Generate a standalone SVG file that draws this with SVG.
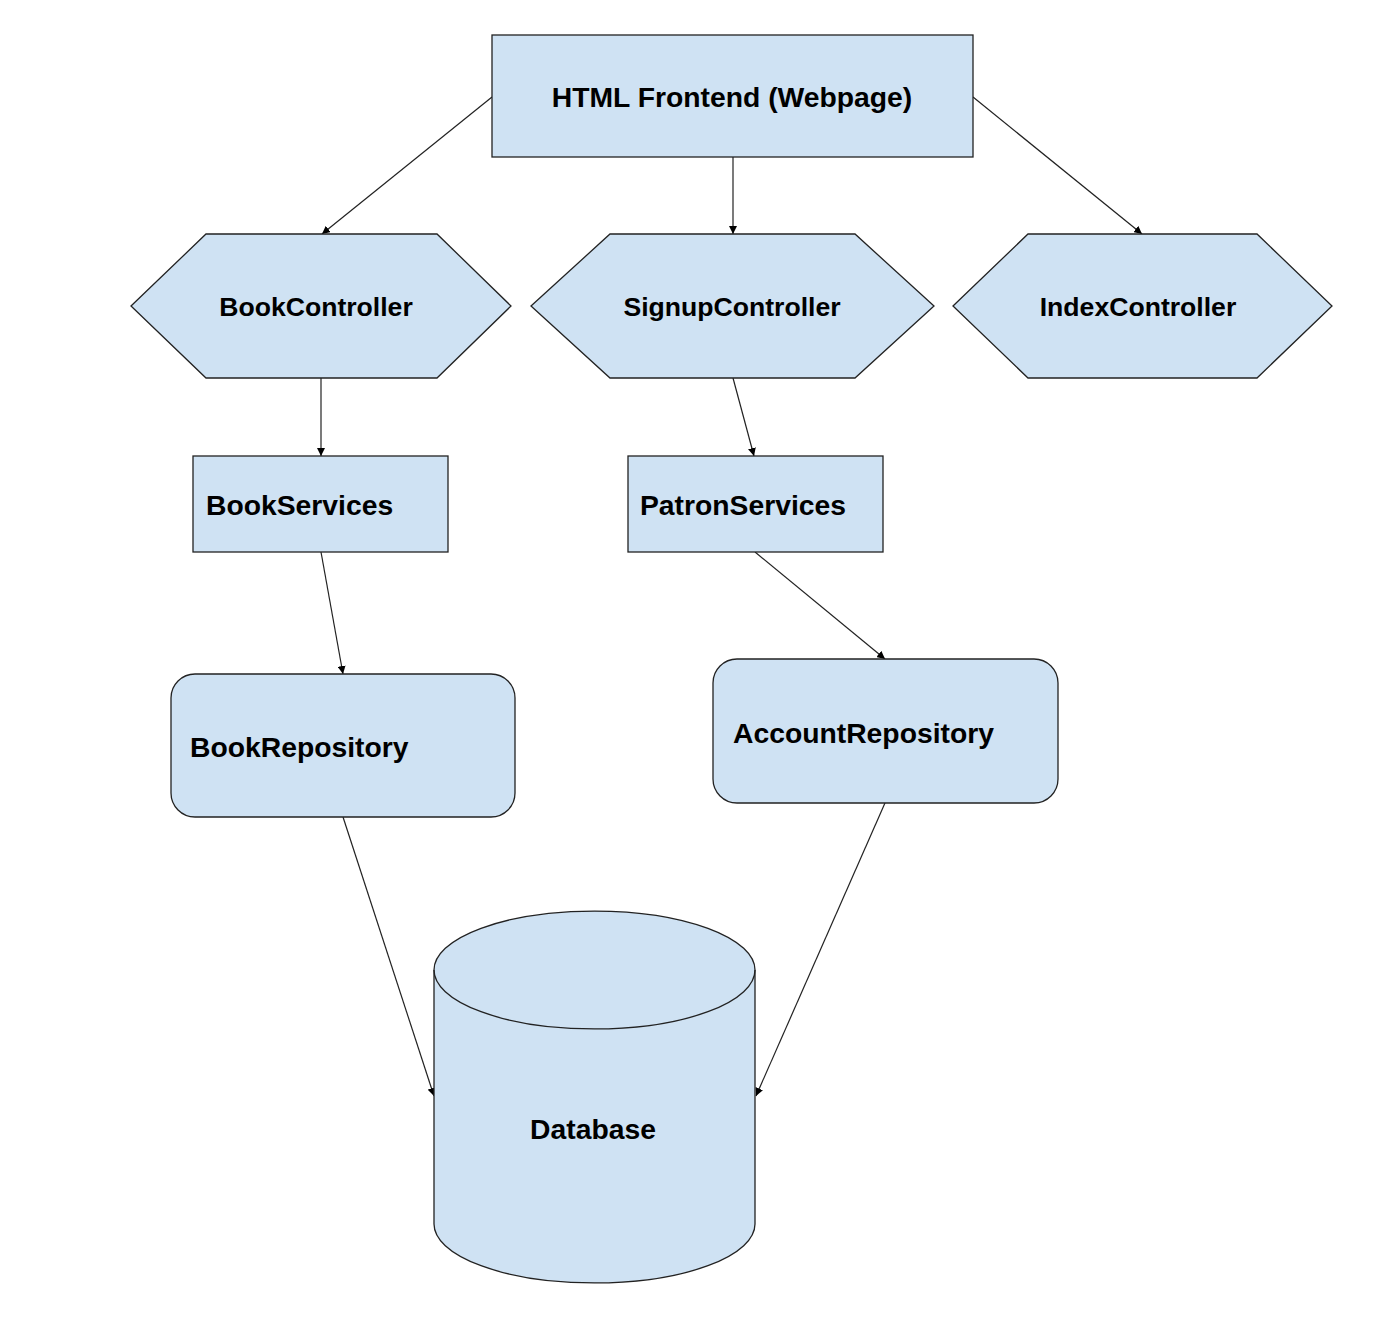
<svg xmlns="http://www.w3.org/2000/svg" width="1400" height="1324" viewBox="0 0 1400 1324">
<defs>
<marker id="arr" viewBox="0 0 10 10" refX="10" refY="5" markerWidth="8" markerHeight="8" markerUnits="userSpaceOnUse" orient="auto">
<path d="M0,0 L10,5 L0,10 z" fill="#000"/>
</marker>
<style>
.n{fill:#cfe2f3;stroke:#222;stroke-width:1.3}
.t{font-family:"Liberation Sans",Arial,sans-serif;font-weight:bold;font-size:28.3px;fill:#000}
.s{font-size:26.6px}
.c{fill:none;stroke:#222;stroke-width:1.2;marker-end:url(#arr)}
</style>
</defs>
<rect width="1400" height="1324" fill="#fff"/>
<g id="connectors">
<line class="c" x1="492" y1="97" x2="322" y2="234"/>
<line class="c" x1="733" y1="157" x2="733" y2="234"/>
<line class="c" x1="973" y1="97" x2="1142" y2="234"/>
<line class="c" x1="321" y1="378" x2="321" y2="456"/>
<line class="c" x1="733" y1="378" x2="754" y2="456"/>
<line class="c" x1="321" y1="552" x2="343" y2="674"/>
<line class="c" x1="755" y1="552" x2="885" y2="659"/>
<line class="c" x1="343" y1="817" x2="434" y2="1096"/>
<line class="c" x1="885" y1="803" x2="756" y2="1096"/>
</g>
<g id="html">
<rect class="n" x="492" y="35" width="481" height="122"/>
<text class="t" x="732" y="107" text-anchor="middle">HTML Frontend (Webpage)</text>
</g>
<g id="bookController">
<polygon class="n" points="131,306 206,234 437,234 511,306 437,378 206,378"/>
<text class="t s" x="316" y="316" text-anchor="middle">BookController</text>
</g>
<g id="signupController">
<polygon class="n" points="531,306 610,234 855,234 934,306 855,378 610,378"/>
<text class="t s" x="732" y="316" text-anchor="middle">SignupController</text>
</g>
<g id="indexController">
<polygon class="n" points="953,306 1028,234 1257,234 1332,306 1257,378 1028,378"/>
<text class="t s" x="1138" y="316" text-anchor="middle">IndexController</text>
</g>
<g id="bookServices">
<rect class="n" x="193" y="456" width="255" height="96"/>
<text class="t" x="206" y="515">BookServices</text>
</g>
<g id="patronServices">
<rect class="n" x="628" y="456" width="255" height="96"/>
<text class="t" x="640" y="515">PatronServices</text>
</g>
<g id="bookRepository">
<rect class="n" x="171" y="674" width="344" height="143" rx="24" ry="24"/>
<text class="t" x="190" y="757">BookRepository</text>
</g>
<g id="accountRepository">
<rect class="n" x="713" y="659" width="345" height="144" rx="24" ry="24"/>
<text class="t" x="733" y="743">AccountRepository</text>
</g>
<g id="database">
<path class="n" d="M434,970 A160.5,59 0 0 1 755,970 L755,1224 A160.5,59 0 0 1 434,1224 Z"/>
<path d="M434,970 A160.5,59 0 0 0 755,970" fill="none" stroke="#222" stroke-width="1.3"/>
<text class="t" x="593" y="1139" text-anchor="middle">Database</text>
</g>
</svg>
